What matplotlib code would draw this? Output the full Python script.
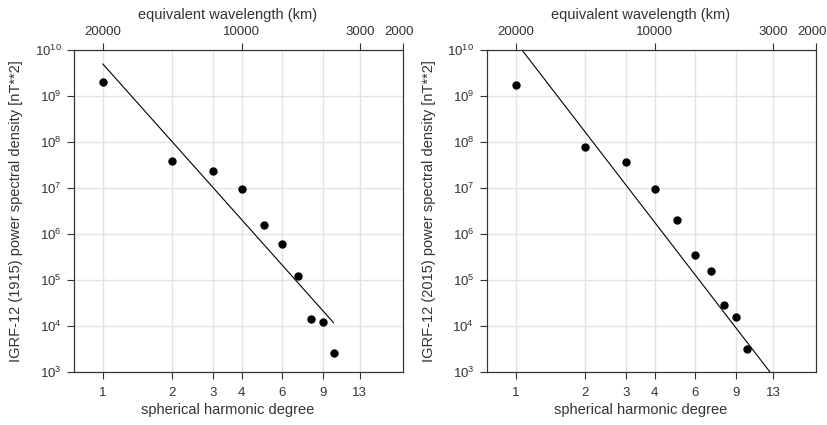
import matplotlib
matplotlib.use("Agg")
import matplotlib.pyplot as plt
import matplotlib.transforms as mtransforms

# ==================== DATA ====================
degree = [1, 2, 3, 4, 5, 6, 7, 8, 9, 10]
psd_1915 = [2.0e9, 3.9e7, 2.3e7, 9.5e6, 1.6e6, 6.0e5, 1.22e5, 1.42e4, 1.2e4, 2.55e3]
psd_2015 = [1.73e9, 7.9e7, 3.67e7, 9.5e6, 1.99e6, 3.55e5, 1.59e5, 2.87e4, 1.57e4, 3.11e3]

# fitted power law, end points
fit_deg_1915 = [1, 10]
fit_psd_1915 = [4.97e9, 1.18e4]
fit_deg_2015 = [1, 13]
fit_psd_2015 = [1.52e10, 8.2e2]

bottom_ticks = [1, 2, 3, 4, 6, 9, 13]
top_ticks = [1, 4, 13, 20]
top_labels = ["20000", "10000", "3000", "2000"]
y_ticks = [1e3, 1e4, 1e5, 1e6, 1e7, 1e8, 1e9, 1e10]
y_labels = [r"$\mathregular{10^{%d}}$" % e for e in range(3, 11)]

ylabels = ["IGRF-12 (1915) power spectral density [nT**2]",
           "IGRF-12 (2015) power spectral density [nT**2]"]

# ==================== STYLE ====================
plt.rcParams["font.family"] = ["Liberation Sans", "DejaVu Sans"]
plt.rcParams["mathtext.fontset"] = "custom"
plt.rcParams["mathtext.rm"] = "Liberation Sans"
txt = "#333333"
grid_c = "#e3e3e3"

fig = plt.figure(figsize=(8.28, 4.25), dpi=100)
positions = [[0.0894, 0.1247, 0.3973, 0.7576],
             [0.5878, 0.1247, 0.3980, 0.7576]]
panels = [(psd_1915, fit_deg_1915, fit_psd_1915),
          (psd_2015, fit_deg_2015, fit_psd_2015)]

for pos, (psd, fdeg, fpsd), ylab in zip(positions, panels, ylabels):
    ax = fig.add_axes(pos)
    ax.set_xscale("log")
    ax.set_yscale("log")
    ax.set_xlim(0.75, 20)
    ax.set_ylim(1e3, 1e10)

    # grid
    for xv in bottom_ticks:
        ax.axvline(xv, color=grid_c, lw=1.0, zorder=0)
    for yv in y_ticks:
        ax.axhline(yv, color=grid_c, lw=1.0, zorder=0)

    ax.plot(fdeg, fpsd, color="black", lw=0.8, zorder=2)
    ax.plot(degree, psd, "o", color="black", ms=5, zorder=3)

    ax.xaxis.set_minor_locator(matplotlib.ticker.NullLocator())
    ax.yaxis.set_minor_locator(matplotlib.ticker.NullLocator())
    ax.set_xticks(bottom_ticks)
    ax.set_xticklabels([str(v) for v in bottom_ticks])
    ax.set_yticks(y_ticks)
    ax.set_yticklabels(y_labels)
    ax.tick_params(axis="both", direction="out", length=5, width=0.8,
                   color=txt, labelcolor=txt, labelsize=9.5, pad=4)
    ax.tick_params(axis="x", pad=6)

    for sp in ax.spines.values():
        sp.set_color(txt)
        sp.set_linewidth(0.8)

    ax.set_xlabel("spherical harmonic degree", fontsize=10.5, color=txt)
    ax.xaxis.set_label_coords(0.468, -0.095)
    ax.set_ylabel(ylab, fontsize=10.5, color=txt)
    ax.yaxis.set_label_coords(-0.155, 0.5)

    top = ax.twiny()
    top.set_xscale("log")
    top.set_xlim(ax.get_xlim())
    top.xaxis.set_minor_locator(matplotlib.ticker.NullLocator())
    top.set_xticks(top_ticks)
    top.set_xticklabels(top_labels)
    top.tick_params(axis="x", direction="out", length=5, width=0.8,
                    color=txt, labelcolor=txt, labelsize=9.5, pad=4)
    # last label sits at the right edge, nudge it inwards a little
    last = top.get_xticklabels()[-1]
    last.set_transform(last.get_transform() +
                       mtransforms.ScaledTranslation(-4 / 100, 0, fig.dpi_scale_trans))
    for sp in top.spines.values():
        sp.set_color(txt)
        sp.set_linewidth(0.8)
    top.set_xlabel("equivalent wavelength (km)", fontsize=10.5, color=txt)
    top.xaxis.set_label_coords(0.468, 1.095)

fig.savefig("out.png", dpi=100)
